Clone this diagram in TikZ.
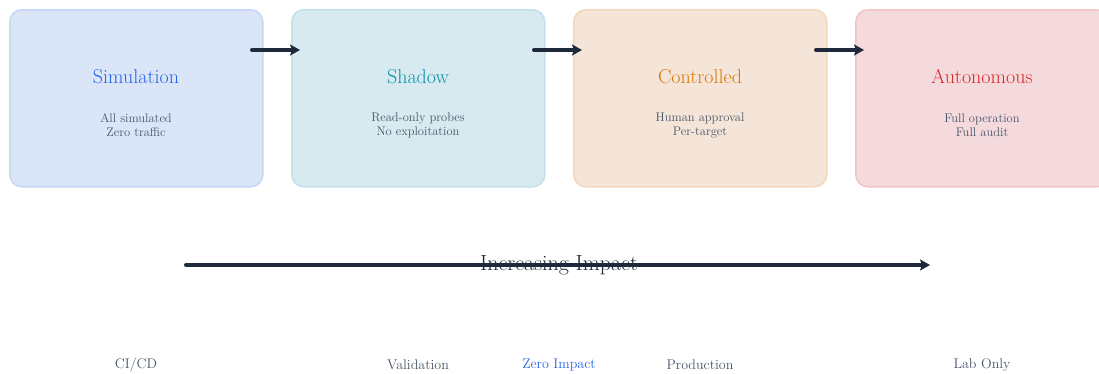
\documentclass[tikz,border=0pt]{standalone}
\usetikzlibrary{arrows.meta}
\definecolor{arrowdark}{HTML}{1E293B}
\definecolor{subgray}{HTML}{475569}
\definecolor{bluefill}{HTML}{DBE5F8}\definecolor{blueline}{HTML}{C5D6F6}\definecolor{bluetext}{HTML}{2563EB}
\definecolor{tealfill}{HTML}{D6EAF0}\definecolor{tealline}{HTML}{C2E1EA}\definecolor{tealtext}{HTML}{0E8FA6}
\definecolor{orangefill}{HTML}{F5E5D8}\definecolor{orangeline}{HTML}{F3D7BA}\definecolor{orangetext}{HTML}{D97706}
\definecolor{redfill}{HTML}{F4DADC}\definecolor{redline}{HTML}{F0C5C8}\definecolor{redtext}{HTML}{DC2626}
\tikzset{
  stage/.style={draw=#1line, fill=#1fill, line width=1.5pt, rounded corners=12pt,
    minimum width=253pt, minimum height=177pt, inner sep=0pt},
  stagetitle/.style={font=\fontsize{20}{23}\selectfont, text=#1text},
  stagesub/.style={font=\fontsize{12.5}{14}\selectfont, text=subgray, align=center},
  flow/.style={draw=arrowdark, line width=4pt, line cap=round, -{Stealth[length=10pt,width=11pt,inset=2pt]}},
  footlabel/.style={font=\fontsize{14}{16}\selectfont, text=subgray}
}
\begin{document}
\begin{tikzpicture}[x=1pt,y=-1pt]
\useasboundingbox (0,0) rectangle (1099,373);
\clip (0,0) rectangle (1099,373);
% stage boxes
\node[stage=blue, anchor=north west] (s1) at (9,9) {};
\node[stage=teal, anchor=north west] (s2) at (291,9) {};
\node[stage=orange, anchor=north west] (s3) at (573,9) {};
\node[stage=red, anchor=north west] (s4) at (855,9) {};
% titles and notes
\node[stagetitle=blue] (t1) at (136,77) {Simulation};
\node[stagesub] (d1) at (136,125) {All simulated\\Zero traffic};
\node[stagetitle=teal] (t2) at (418,77) {Shadow};
\node[stagesub] (d2) at (418,125) {Read-only probes\\No exploitation};
\node[stagetitle=orange] (t3) at (700,77) {Controlled};
\node[stagesub] (d3) at (700,125) {Human approval\\Per-target};
\node[stagetitle=red] (t4) at (982,77) {Autonomous};
\node[stagesub] (d4) at (982,125) {Full operation\\Full audit};
% arrows between stages
\coordinate (a1s) at (252,50); \coordinate (a1e) at (300,50);
\coordinate (a2s) at (534,50); \coordinate (a2e) at (582,50);
\coordinate (a3s) at (816,50); \coordinate (a3e) at (864,50);
\draw[flow] (a1s) -- (a1e);
\draw[flow] (a2s) -- (a2e);
\draw[flow] (a3s) -- (a3e);
% impact axis
\coordinate (ax0) at (186,265); \coordinate (ax1) at (930,265);
\draw[flow] (ax0) -- (ax1);
\node[font=\fontsize{22}{25}\selectfont, text=arrowdark] (imp) at (559,265) {Increasing Impact};
% footer labels
\node[footlabel] (f1) at (136,365) {CI/CD};
\node[footlabel] (f2) at (418,365) {Validation};
\node[footlabel, text=bluetext] (f3) at (559,365) {Zero Impact};
\node[footlabel] (f4) at (700,365) {Production};
\node[footlabel] (f5) at (982,365) {Lab Only};
\end{tikzpicture}
\end{document}
